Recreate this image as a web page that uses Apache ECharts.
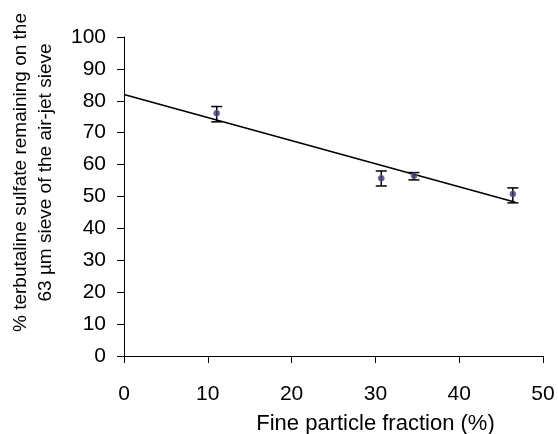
<!DOCTYPE html>
<html>
<head>
<meta charset="utf-8">
<script src="https://cdn.jsdelivr.net/npm/echarts@6/dist/echarts.min.js"></script>
<style>html,body{margin:0;padding:0;background:#fff}#c{width:558px;height:434px}</style>
</head>
<body>
<div id="c"></div>
<script>
var fineFraction = [11.06, 30.7, 34.6, 46.4];
var remaining = [76.1, 55.7, 56.5, 50.8];
var errLow = [73.4, 53.3, 55.2, 48.0];
var errHigh = [78.2, 58.0, 57.5, 52.7];
var trendX = [0, 46.7];
var trendY = [82.0, 48.2];

var font = 'Liberation Sans, Arial, sans-serif';
var points = fineFraction.map(function (x, i) { return [x, remaining[i]]; });
var bars = fineFraction.map(function (x, i) { return [x, errLow[i], errHigh[i]]; });
var trend = trendX.map(function (x, i) { return [x, trendY[i]]; });

var chart = echarts.init(document.getElementById('c'));
chart.setOption({
  animation: false,
  backgroundColor: '#fff',
  grid: { left: 124, right: 15, top: 37, bottom: 78, containLabel: false, outerBoundsMode: 'none' },
  xAxis: {
    type: 'value', min: 0, max: 50, interval: 10,
    name: 'Fine particle fraction (%)',
    nameLocation: 'middle', nameGap: 57,
    nameTextStyle: { fontFamily: font, fontSize: 22, color: '#000', padding: [0, 0, 0, 84] },
    axisLine: { lineStyle: { color: '#000', width: 1 } },
    axisTick: { show: true, length: 7, lineStyle: { color: '#000' } },
    axisLabel: { fontFamily: font, fontSize: 21, color: '#000', margin: 28 },
    splitLine: { show: false }
  },
  yAxis: {
    type: 'value', min: 0, max: 100, interval: 10,
    name: '% terbutaline sulfate remaining on the\n63 \u00b5m sieve of the air-jet sieve',
    nameLocation: 'middle', nameRotate: 90, nameGap: 66,
    nameTextStyle: { fontFamily: font, fontSize: 19, color: '#000', lineHeight: 25, padding: [0, 0, 0, 48] },
    axisLine: { show: true, lineStyle: { color: '#000', width: 1 } },
    axisTick: { show: true, length: 7, lineStyle: { color: '#000' } },
    axisLabel: { fontFamily: font, fontSize: 21, color: '#000', margin: 18 },
    splitLine: { show: false }
  },
  series: [
    {
      type: 'line', data: trend, symbol: 'none',
      lineStyle: { color: '#000', width: 1.6 }, z: 2
    },
    {
      type: 'custom', data: bars, z: 3,
      renderItem: function (params, api) {
        var x = api.value(0);
        var lo = api.coord([x, api.value(1)]);
        var hi = api.coord([x, api.value(2)]);
        var hw = 5.5;
        var st = { stroke: '#000', lineWidth: 1.5 };
        return {
          type: 'group',
          children: [
            { type: 'line', shape: { x1: lo[0], y1: lo[1], x2: hi[0], y2: hi[1] }, style: st },
            { type: 'line', shape: { x1: lo[0] - hw, y1: lo[1], x2: lo[0] + hw, y2: lo[1] }, style: st },
            { type: 'line', shape: { x1: hi[0] - hw, y1: hi[1], x2: hi[0] + hw, y2: hi[1] }, style: st }
          ]
        };
      }
    },
    {
      type: 'scatter', data: points, symbol: 'circle', symbolSize: 6, z: 4,
      itemStyle: { color: '#3d3a7a', borderColor: '#6a6a80', borderWidth: 0.8 }
    }
  ]
});
</script>
</body>
</html>
